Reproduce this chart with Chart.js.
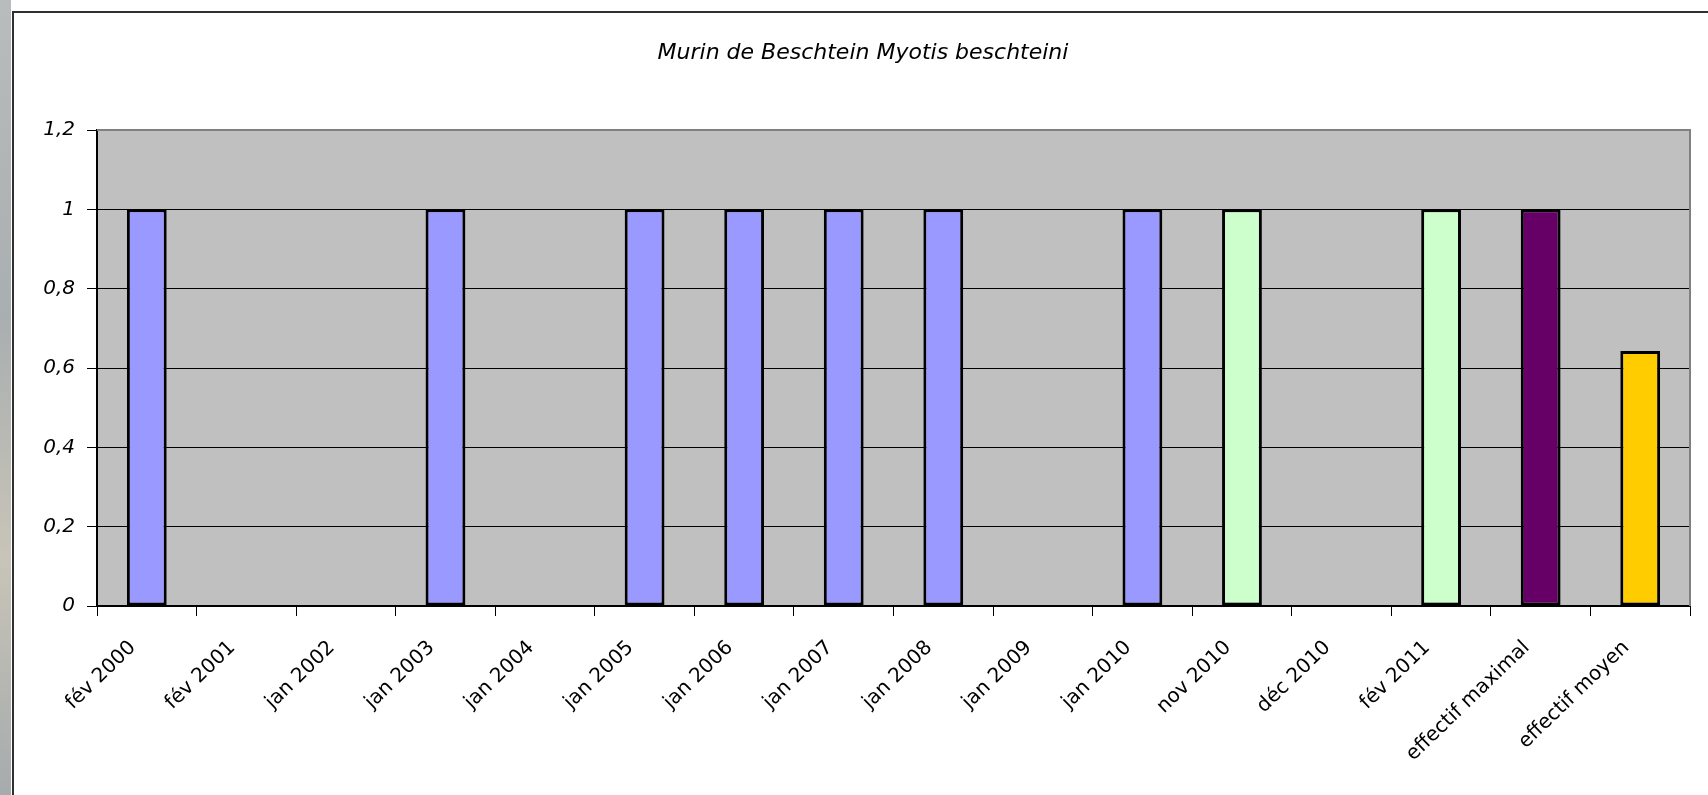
<!DOCTYPE html>
<html>
<head>
<meta charset="utf-8">
<script src="https://cdn.jsdelivr.net/npm/chart.js@4.4.1/dist/chart.umd.min.js"></script>
<style>
  html, body { margin: 0; padding: 0; background: #ffffff; }
  #wrap { position: relative; width: 1708px; height: 795px; overflow: hidden; background: #ffffff; }
  #strip { position: absolute; left: 0; top: 0; width: 11px; height: 795px; background: linear-gradient(#b9bcbc, #a9aeb0 40%, #c8c4b8 70%, #a6abad); }
  #frame { position: absolute; left: 12px; top: 11px; width: 1720px; height: 800px; border-left: 2px solid #303030; border-top: 2px solid #303030; box-sizing: border-box; }
  #c { position: absolute; left: 0; top: 0; }
</style>
</head>
<body>
<div id="wrap">
  <div id="strip"></div>
  <div id="frame"></div>
  <canvas id="c" width="1708" height="795"></canvas>
</div>
<script>
const chartTitle = 'Murin de Beschtein Myotis beschteini';
const categories = ['fév 2000', 'fév 2001', 'jan 2002', 'jan 2003', 'jan 2004', 'jan 2005', 'jan 2006', 'jan 2007', 'jan 2008', 'jan 2009', 'jan 2010', 'nov 2010', 'déc 2010', 'fév 2011', 'effectif maximal', 'effectif moyen'];
const values = [1, 0, 0, 1, 0, 1, 1, 1, 1, 0, 1, 1, 0, 1, 1, 0.643];
const barColors = ['#9999FF', '#9999FF', '#9999FF', '#9999FF', '#9999FF', '#9999FF', '#9999FF', '#9999FF', '#9999FF', '#9999FF', '#9999FF', '#CCFFCC', '#CCFFCC', '#CCFFCC', '#660066', '#FFCC00'];
const yTickLabels = ['0', '0,2', '0,4', '0,6', '0,8', '1', '1,2'];

const plotBg = {
  id: 'plotBg',
  beforeDraw(chart) {
    const { ctx, chartArea: a } = chart;
    ctx.save();
    ctx.fillStyle = '#C0C0C0';
    ctx.fillRect(a.left, a.top, a.right - a.left, a.bottom - a.top);
    ctx.restore();
  },
  afterDatasetsDraw(chart) {
    const { ctx, chartArea: a } = chart;
    ctx.save();
    ctx.strokeStyle = '#808080';
    ctx.lineWidth = 2;
    ctx.beginPath();
    ctx.moveTo(a.left, a.top);
    ctx.lineTo(a.right, a.top);
    ctx.lineTo(a.right, a.bottom);
    ctx.stroke();
    ctx.restore();
  }
};

new Chart(document.getElementById('c'), {
  type: 'bar',
  data: {
    labels: categories,
    datasets: [{
      data: values,
      backgroundColor: barColors,
      borderColor: '#000000',
      borderWidth: 3,
      borderSkipped: false,
      categoryPercentage: 1.0,
      barPercentage: 0.4
    }]
  },
  options: {
    responsive: false,
    devicePixelRatio: 1,
    animation: false,
    layout: { padding: { left: 36, right: 18, top: 0, bottom: 0 } },
    plugins: {
      legend: { display: false },
      tooltip: { enabled: false },
      title: {
        display: true,
        text: chartTitle,
        color: '#000000',
        font: { family: 'DejaVu Sans', size: 22, style: 'italic', weight: 'normal', lineHeight: 1.2 },
        padding: { top: 39.8, bottom: 63.8 }
      }
    },
    scales: {
      x: {
        offset: true,
        grid: { display: true, drawOnChartArea: false, drawTicks: true, tickLength: 10, color: '#000000', offset: true },
        border: { display: true, color: '#000000', width: 2 },
        ticks: {
          color: '#000000',
          font: { family: 'DejaVu Sans', size: 20, lineHeight: 1.2 },
          minRotation: 44,
          maxRotation: 44,
          autoSkip: false,
          padding: 20,
          labelOffset: -14
        },
        afterFit(scale) { scale.height = 189; }
      },
      y: {
        min: 0,
        max: 1.2,
        ticks: {
          stepSize: 0.2,
          color: '#000000',
          font: { family: 'DejaVu Sans', size: 20, style: 'italic' },
          padding: 12,
          callback: (v, i) => yTickLabels[i]
        },
        grid: {
          color: (c) => (c.index === yTickLabels.length - 1 ? '#808080' : '#000000'),
          tickColor: '#000000',
          lineWidth: 1,
          tickLength: 10
        },
        border: { display: true, color: '#000000', width: 2 },
        afterFit(scale) { scale.width = 61; }
      }
    }
  },
  plugins: [plotBg]
});
</script>
</body>
</html>
